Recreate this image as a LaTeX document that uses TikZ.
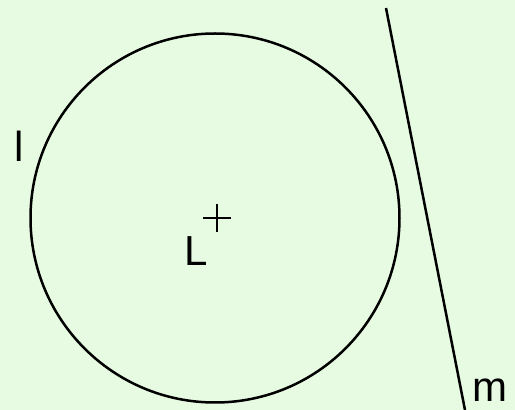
\documentclass[tikz,border=0pt]{standalone}
\usepackage{fontspec}
\setmainfont{Liberation Sans}
\usetikzlibrary{calc}
\definecolor{bgc}{RGB}{230,251,225}
\begin{document}
\begin{tikzpicture}[x=1pt,y=1pt,
  shape line/.style={line width=2.5pt, black},
  plus line/.style={line width=2.6pt, black},
  lbl/.style={inner sep=0pt, anchor=base west, font=\fontsize{42}{42}\selectfont}]
\fill[bgc] (0,0) rectangle (515,410);
\useasboundingbox (0,0) rectangle (515,410);
\coordinate (C) at (215,192);
\draw[shape line] (C) circle (184.5);
\draw[plus line] ($(C)+(2,-14)$) -- ($(C)+(2,14)$);
\draw[plus line] ($(C)+(-12,0)$) -- ($(C)+(16,0)$);
\coordinate (mtop) at (386,402);
\coordinate (mbot) at (465,0);
\draw[shape line] (mtop) -- (mbot);
\node[lbl] (Llab) at (184,144) {L};
\node[lbl] (llab) at (14,248) {l};
\node[lbl] (mlab) at (472,8) {m};
\end{tikzpicture}
\end{document}
